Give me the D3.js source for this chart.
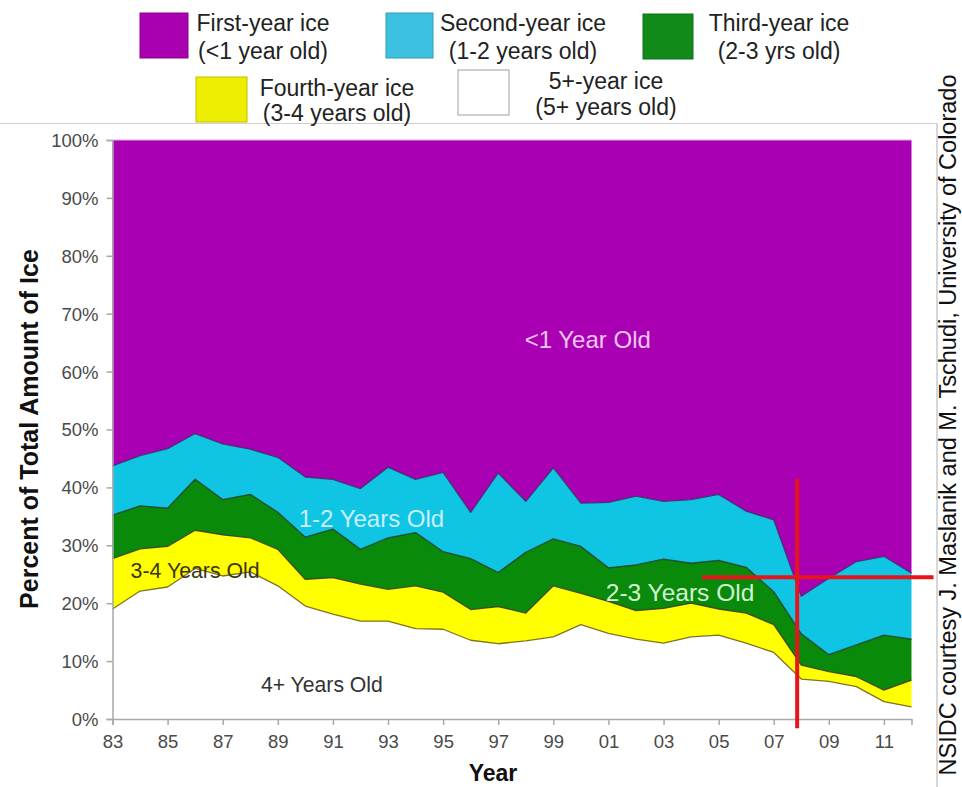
<!DOCTYPE html>
<html>
<head>
<meta charset="utf-8">
<script src="https://cdn.jsdelivr.net/npm/d3@7"></script>
<style>
  html, body { margin: 0; padding: 0; background: #fff; }
  svg { display: block; font-family: "Liberation Sans", Arial, Helvetica, sans-serif; }
</style>
</head>
<body>
<svg id="chart" width="962" height="787"></svg>
<script>
// ---------------- DATA ----------------
const years = [1983,1984,1985,1986,1987,1988,1989,1990,1991,1992,1993,1994,1995,1996,1997,
               1998,1999,2000,2001,2002,2003,2004,2005,2006,2007,2008,2009,2010,2011,2012];

// share of total ice (%) by age class
const fivePlusYear = [19.0,22.1,22.8,26.0,24.7,25.4,23.0,19.5,18.1,16.9,16.9,15.6,15.5,13.6,13.0,
                      13.5,14.2,16.3,14.8,13.8,13.1,14.2,14.5,13.1,11.5,6.9,6.5,5.6,3.0,2.1];
const fourthYear   = [8.7,7.3,7.0,6.6,7.1,5.9,6.3,4.6,6.3,6.4,5.5,7.4,6.4,5.3,6.4,
                      4.8,8.8,5.4,5.5,4.9,6.0,5.8,4.5,5.2,4.8,2.4,1.7,1.7,2.0,4.6];
const thirdYear    = [7.5,7.4,6.6,8.8,6.1,7.5,6.4,7.3,8.4,6.0,8.9,9.2,7.0,8.8,5.9,
                      10.5,8.1,8.1,5.8,7.9,8.5,6.9,8.4,7.9,5.7,5.4,2.9,5.5,9.5,7.1];
const secondYear   = [8.5,8.7,10.3,7.9,9.6,7.8,9.5,10.4,8.6,10.5,12.2,9.2,13.7,8.0,17.2,
                      8.8,12.3,7.5,11.3,11.9,10.0,11.0,11.4,9.7,12.4,6.5,13.2,14.4,13.6,11.4];
const firstYear    = [56.3,54.5,53.3,50.7,52.5,53.4,54.8,58.2,58.6,60.2,56.5,58.6,57.4,64.3,57.5,
                      62.4,56.6,62.7,62.6,61.5,62.4,62.1,61.2,64.1,65.6,78.8,75.7,72.8,71.9,74.8];

const seriesKeys   = ["fivePlus","fourth","third","second","first"];
const seriesColors = ["#ffffff","#ffff00","#0a8a0a","#10c4e4","#aa00b4"];

const yTickValues  = [0,10,20,30,40,50,60,70,80,90,100];
const yTickLabels  = ["0%","10%","20%","30%","40%","50%","60%","70%","80%","90%","100%"];
const xTickValues  = [1983,1985,1987,1989,1991,1993,1995,1997,1999,2001,2003,2005,2007,2009,2011];
const xTickLabels  = ["83","85","87","89","91","93","95","97","99","01","03","05","07","09","11"];

const legendItems = [
  {l1:"First-year ice",  l2:"(<1 year old)",    color:"#a900b0"},
  {l1:"Second-year ice", l2:"(1-2 years old)",  color:"#3cc2e0"},
  {l1:"Third-year ice",  l2:"(2-3 yrs old)",    color:"#118a1a"},
  {l1:"Fourth-year ice", l2:"(3-4 years old)",  color:"#eeee00"},
  {l1:"5+-year ice",     l2:"(5+ years old)",   color:"#ffffff"}
];

const areaLabels = [
  {text:"<1 Year Old",   year:2000.25, value:65.5, color:"#f3c6f3", size:24},
  {text:"1-2 Years Old", year:1992.4, value:34.6, color:"#c9efff", size:24},
  {text:"3-4 Years Old", year:1986.0, value:25.6, color:"#3b3510", size:21.3},
  {text:"4+ Years Old",  year:1990.6, value:6.0,  color:"#333333", size:21.2},
  {text:"2-3 Years Old", year:2003.6, value:21.8, color:"#d2f4d2", size:24.5}
];

// ---------------- CHART ----------------
const svg = d3.select("#chart");

const x = d3.scaleLinear().domain([1983, 2012]).range([112.5, 911.5]);
const y = d3.scaleLinear().domain([0, 100]).range([719, 140]);

const rows = years.map((yr, i) => ({
  year: yr,
  fivePlus: fivePlusYear[i],
  fourth: fourthYear[i],
  third: thirdYear[i],
  second: secondYear[i],
  first: firstYear[i]
}));

const stacked = d3.stack().keys(seriesKeys)(rows);

const area = d3.area()
  .x(d => x(d.data.year))
  .y0(d => y(d[0]))
  .y1(d => y(d[1]));

const topLine = d3.line()
  .x(d => x(d.data.year))
  .y(d => y(d[1]));

const gAreas = svg.append("g");
gAreas.selectAll("path.area")
  .data(stacked)
  .join("path")
  .attr("class", "area")
  .attr("d", area)
  .attr("fill", (d, i) => seriesColors[i]);

// boundary lines between layers
const lineColors = ["#6b5a10","#3a3a20","#1d3a22","#3b2a60"];
gAreas.selectAll("path.edge")
  .data(stacked.slice(0, 4))
  .join("path")
  .attr("class", "edge")
  .attr("d", topLine)
  .attr("fill", "none")
  .attr("stroke", (d, i) => lineColors[i])
  .attr("stroke-width", 1.3)
  .attr("stroke-linejoin", "round")
  .attr("opacity", 0.85);

// thin light edge on purple top
svg.append("line")
  .attr("x1", x(1983)).attr("x2", x(2012))
  .attr("y1", y(100)).attr("y2", y(100))
  .attr("stroke", "#e6a6ea").attr("stroke-width", 1);

// axes
const yAxis = d3.axisLeft(y)
  .tickValues(yTickValues)
  .tickFormat((d, i) => yTickLabels[i])
  .tickSize(6).tickPadding(8);
const gy = svg.append("g").attr("transform", `translate(${x(1983)},0)`).call(yAxis);

const xAxis = d3.axisBottom(x)
  .tickValues(xTickValues)
  .tickFormat((d, i) => xTickLabels[i])
  .tickSize(6).tickPadding(10);
const gx = svg.append("g").attr("transform", `translate(0,${y(0)})`).call(xAxis);

[gx, gy].forEach(g => {
  g.select(".domain").attr("stroke", "#a8a8a8").attr("stroke-width", 1.5);
  g.selectAll(".tick line").attr("stroke", "#a8a8a8").attr("stroke-width", 1.5);
  g.selectAll(".tick text")
    .attr("fill", "#4a4a4a")
    .style("font-size", "18.5px")
    .style("font-family", "'Liberation Sans', Arial, sans-serif");
});
gy.selectAll(".tick text").attr("dy", "0.35em");

// axis titles
svg.append("text")
  .attr("x", 493).attr("y", 781)
  .attr("text-anchor", "middle")
  .style("font-size", "23px").style("font-weight", "bold")
  .attr("fill", "#111")
  .text("Year");

svg.append("text")
  .attr("transform", "translate(38,429) rotate(-90)")
  .attr("text-anchor", "middle")
  .style("font-size", "25px").style("font-weight", "bold")
  .attr("fill", "#111")
  .text("Percent of Total Amount of Ice");

// labels inside the areas
svg.append("g").selectAll("text")
  .data(areaLabels)
  .join("text")
  .attr("x", d => x(d.year))
  .attr("y", d => y(d.value))
  .attr("text-anchor", "middle")
  .attr("dy", "0.35em")
  .attr("fill", d => d.color)
  .style("font-size", d => d.size + "px")
  .text(d => d.text);

// red cross annotation
svg.append("line")
  .attr("x1", x(2007.85)).attr("x2", x(2007.85))
  .attr("y1", y(41.5)).attr("y2", y(-1.6))
  .attr("stroke", "#e8141c").attr("stroke-width", 4);
svg.append("line")
  .attr("x1", x(2004.4)).attr("x2", x(2012.8))
  .attr("y1", y(24.5)).attr("y2", y(24.5))
  .attr("stroke", "#e8141c").attr("stroke-width", 4);

// frame lines (separator)
svg.append("line").attr("x1", 0).attr("x2", 937).attr("y1", 123.5).attr("y2", 123.5)
  .attr("stroke", "#cfcfcf").attr("stroke-width", 1.2);
svg.append("line").attr("x1", 937).attr("x2", 937).attr("y1", 123.5).attr("y2", 787)
  .attr("stroke", "#bdbdbd").attr("stroke-width", 1.2);

// credit
svg.append("text")
  .attr("transform", "translate(956,425) rotate(-90)")
  .attr("text-anchor", "middle")
  .style("font-size", "23.5px")
  .attr("fill", "#111")
  .text("NSIDC courtesy  J. Maslanik and M. Tschudi, University of Colorado");

// legend
const legendPos = [
  {sx:140, sy:13, sw:48, sh:45, cx:263, b1:31, b2:59},
  {sx:386, sy:13, sw:47, sh:45, cx:523, b1:31, b2:59},
  {sx:643, sy:14, sw:50, sh:45, cx:779, b1:31, b2:59},
  {sx:196, sy:77, sw:51, sh:45, cx:337, b1:96, b2:121},
  {sx:458, sy:70, sw:51, sh:45, cx:606, b1:89, b2:115}
];
const gl = svg.append("g");
legendItems.forEach((it, i) => {
  const p = legendPos[i];
  gl.append("rect")
    .attr("x", p.sx).attr("y", p.sy).attr("width", p.sw).attr("height", p.sh)
    .attr("fill", it.color)
    .attr("stroke", i === 4 ? "#a0a0a0" : d3.color(it.color).darker(0.6))
    .attr("stroke-width", 1);
  gl.append("text").attr("x", p.cx).attr("y", p.b1).attr("text-anchor", "middle")
    .style("font-size", "23px").attr("fill", "#222").text(it.l1);
  gl.append("text").attr("x", p.cx).attr("y", p.b2).attr("text-anchor", "middle")
    .style("font-size", "23px").attr("fill", "#222").text(it.l2);
});
</script>
</body>
</html>
